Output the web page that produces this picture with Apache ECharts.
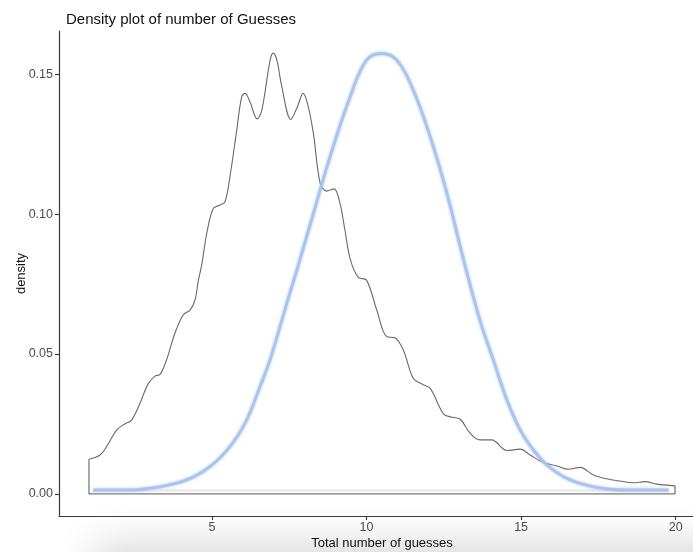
<!DOCTYPE html>
<html>
<head>
<meta charset="utf-8">
<title>Density plot of number of Guesses</title>
<script src="https://cdn.jsdelivr.net/npm/echarts@6/dist/echarts.min.js"></script>
<style>
  html, body { margin: 0; padding: 0; background: #ffffff; }
  #chart { width: 693px; height: 552px; }
</style>
</head>
<body>
<div id="chart"></div>
<script>
// Kernel density of the total number of guesses
const densityX = [1.02, 1.38, 1.59, 1.92, 2.18, 2.40, 2.67, 2.94, 3.16, 3.32, 3.53, 3.80, 4.07, 4.29, 4.45, 4.56, 4.67, 4.83, 5.04, 5.26, 5.42, 5.58, 5.80, 5.96, 6.07, 6.23, 6.46, 6.61, 6.88, 6.98, 7.10, 7.25, 7.55, 7.75, 7.95, 8.10, 8.28, 8.50, 8.71, 8.95, 9.14, 9.30, 9.47, 9.73, 10.00, 10.33, 10.65, 10.92, 11.19, 11.51, 11.79, 12.06, 12.49, 12.76, 13.03, 13.35, 13.67, 14.05, 14.54, 14.97, 15.29, 15.72, 16.16, 16.53, 16.91, 17.34, 17.77, 18.20, 18.63, 19.01, 19.39, 19.98];
const densityY = [0.0124, 0.0139, 0.0169, 0.0229, 0.0250, 0.0264, 0.0324, 0.0395, 0.0421, 0.0427, 0.0479, 0.0574, 0.0640, 0.0657, 0.0693, 0.0764, 0.0820, 0.0931, 0.1020, 0.1032, 0.1044, 0.1133, 0.1300, 0.1419, 0.1431, 0.1400, 0.1340, 0.1370, 0.1550, 0.1575, 0.1550, 0.1460, 0.1338, 0.1380, 0.1431, 0.1390, 0.1288, 0.1110, 0.1082, 0.1090, 0.1038, 0.0943, 0.0840, 0.0774, 0.0764, 0.0657, 0.0562, 0.0558, 0.0514, 0.0413, 0.0393, 0.0377, 0.0286, 0.0274, 0.0267, 0.0217, 0.0193, 0.0193, 0.0155, 0.0160, 0.0139, 0.0112, 0.0100, 0.0088, 0.0095, 0.0068, 0.0054, 0.0046, 0.0040, 0.0044, 0.0035, 0.0029];

// Closing edges of the density polygon (left side, baseline, right side)
const outlineX = [1.02, 1.02, 19.98, 19.98];
const outlineY = [0.0124, 0, 0, 0.0029];

// Fitted normal curve
const normalX = [1.16, 2.24, 3.32, 4.18, 4.94, 5.58, 6.12, 6.55, 6.88, 7.42, 7.80, 8.28, 8.82, 9.47, 10.00, 10.49, 10.98, 11.51, 12.06, 12.60, 13.14, 13.67, 14.10, 14.54, 14.97, 15.40, 15.83, 16.48, 17.34, 18.42, 19.77];
const normalY = [0.0014, 0.0014, 0.0026, 0.0050, 0.0098, 0.0169, 0.0264, 0.0383, 0.0480, 0.0681, 0.0820, 0.1002, 0.1205, 0.1419, 0.1550, 0.1574, 0.1550, 0.1443, 0.1276, 0.1074, 0.0836, 0.0620, 0.0479, 0.0336, 0.0229, 0.0157, 0.0104, 0.0056, 0.0026, 0.0014, 0.0014];

// Lower edge of the normal curve band
const normalBaseX = [1.16, 19.77];
const normalBaseY = [0.0012, 0.0012];

// Axis ticks
const xTicks = [5, 10, 15, 20];
const yTicks = [0, 0.05, 0.10, 0.15];

const zip = (xs, ys) => xs.map((x, i) => [x, ys[i]]);

const FONT = "'Liberation Sans', Arial, Helvetica, sans-serif";
const chart = echarts.init(document.getElementById('chart'), null, { renderer: 'canvas' });

chart.setOption({
  animation: false,
  backgroundColor: '#ffffff',
  title: {
    text: 'Density plot of number of Guesses',
    left: 61,
    top: 7,
    textStyle: { fontFamily: FONT, fontSize: 15, fontWeight: 'normal', color: '#111' }
  },
  grid: { left: 59, right: -12, top: 31, bottom: 36, containLabel: false, outerBoundsMode: 'none' },
  xAxis: {
    type: 'value',
    min: 0.05,
    max: 20.95,
    name: 'Total number of guesses',
    nameLocation: 'middle',
    nameGap: 21,
    nameMoveOverlap: false,
    nameTextStyle: { fontFamily: FONT, fontSize: 13, color: '#111' },
    axisLine: { show: true, onZero: false, lineStyle: { color: '#3a3a3a', width: 1.2 } },
    axisTick: { show: true, length: 4, customValues: xTicks, lineStyle: { color: '#3a3a3a', width: 1.1 } },
    axisLabel: { customValues: xTicks, margin: 5, fontFamily: FONT, fontSize: 12.5, color: '#4d4d4d' },
    splitLine: { show: false }
  },
  yAxis: {
    type: 'value',
    min: -0.00788,
    max: 0.1654,
    name: 'density',
    nameLocation: 'middle',
    nameGap: 31,
    nameRotate: 90,
    nameMoveOverlap: false,
    nameTextStyle: { fontFamily: FONT, fontSize: 13, color: '#111' },
    axisLine: { show: true, onZero: false, lineStyle: { color: '#3a3a3a', width: 1.2 } },
    axisTick: { show: true, length: 4, customValues: yTicks, lineStyle: { color: '#3a3a3a', width: 1.1 } },
    axisLabel: {
      customValues: yTicks,
      margin: 6,
      fontFamily: FONT,
      fontSize: 12.5,
      color: '#4d4d4d',
      formatter: v => v.toFixed(2)
    },
    splitLine: { show: false }
  },
  graphic: [{
    // soft grey shade along the bottom edge
    type: 'rect',
    z: -1,
    silent: true,
    shape: { x: 95, y: 560, width: 700, height: 60 },
    style: {
      fill: '#d8d8d8',
      shadowColor: 'rgba(0,0,0,0.16)',
      shadowBlur: 40,
      shadowOffsetY: -16
    }
  }],
  series: [
    {
      name: 'normal base',
      type: 'line',
      data: zip(normalBaseX, normalBaseY),
      symbol: 'none',
      lineStyle: { color: '#eeeeee', width: 3 },
      z: 1
    },
    {
      name: 'outline',
      type: 'line',
      data: zip(outlineX, outlineY),
      symbol: 'none',
      lineStyle: { color: '#7a7a7a', width: 1.3 },
      z: 2
    },
    {
      name: 'density',
      type: 'line',
      data: zip(densityX, densityY),
      symbol: 'none',
      smooth: 0.35,
      lineStyle: { color: '#6a6a6a', width: 1.1 },
      z: 3
    },
    {
      name: 'normal',
      type: 'line',
      data: zip(normalX, normalY),
      symbol: 'none',
      smooth: 0.4,
      lineStyle: {
        color: 'rgba(165,193,236,0.9)',
        width: 3,
        shadowBlur: 3,
        shadowColor: 'rgba(160,190,236,0.9)'
      },
      z: 4
    }
  ]
});
</script>
</body>
</html>
